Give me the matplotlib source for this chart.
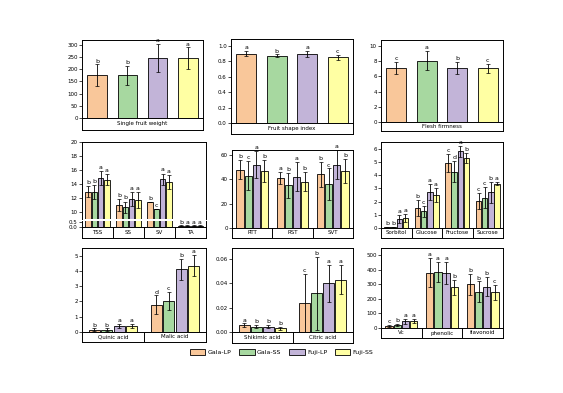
import matplotlib
matplotlib.use("Agg")
import matplotlib.pyplot as plt
from matplotlib.patches import Patch
import numpy as np

W, H = 563, 393

cultivars = ["Gala-LP", "Gala-SS", "Fuji-LP", "Fuji-SS"]
colors = ["#f9c79a", "#a7d8a0", "#c2b4d8", "#ffffa3"]

# single fruit weight
weight_groups = ["Single fruit weight"]
weight = [[175, 175, 245, 245]]
weight_err = [[45, 40, 58, 45]]
weight_sig = [["b", "b", "a", "a"]]

# fruit shape index
shape_groups = ["Fruit shape index"]
shape = [[0.90, 0.87, 0.89, 0.85]]
shape_err = [[0.03, 0.02, 0.04, 0.03]]
shape_sig = [["a", "b", "a", "c"]]

# flesh firmness
firm_groups = ["Flesh firmness"]
firm = [[7.1, 8.1, 7.1, 7.1]]
firm_err = [[0.8, 1.3, 0.8, 0.6]]
firm_sig = [["c", "a", "b", "c"]]

# TSS etc (broken axis)
tss_groups = ["TSS", "SS", "SV", "TA"]
tss = [[12.9, 12.9, 14.9, 14.6],
       [11.0, 10.7, 11.9, 11.7],
       [11.4, 10.4, 14.7, 14.3],
       [0.15, 0.15, 0.15, 0.15]]
tss_err = [[0.8, 1.0, 1.0, 0.8],
           [0.8, 0.8, 1.0, 1.1],
           [0.0, 0.0, 0.8, 1.0],
           [0.02, 0.02, 0.02, 0.02]]
tss_sig = [["b", "b", "a", "a"],
           ["b", "b", "a", "a"],
           ["b", "c", "a", "a"],
           ["b", "a", "a", "a"]]

# texture
tex_groups = ["RTT", "RST", "SVT"]
tex = [[48, 43, 52, 47],
       [41, 35, 42, 38],
       [44, 36, 52, 47]]
tex_err = [[8, 12, 11, 9],
           [5, 10, 12, 8],
           [10, 13, 12, 10]]
tex_sig = [["b", "c", "a", "b"],
           ["a", "b", "a", "b"],
           ["b", "c", "a", "b"]]

# sugars
sug_groups = ["Sorbitol", "Glucose", "Fructose", "Sucrose"]
sug = [[0.05, 0.05, 0.7, 0.78],
       [1.5, 1.25, 2.7, 2.5],
       [4.9, 4.25, 5.8, 5.3],
       [2.05, 2.3, 2.7, 3.35]]
sug_err = [[0.02, 0.02, 0.3, 0.3],
           [0.6, 0.4, 0.6, 0.5],
           [0.7, 0.8, 0.4, 0.4],
           [0.6, 0.8, 0.8, 0.1]]
sug_sig = [["b", "b", "a", "a"],
           ["b", "c", "a", "a"],
           ["c", "d", "a", "b"],
           ["c", "c", "b", "a"]]

# acids 1
acid_groups = ["Quinic acid", "Malic acid"]
acid = [[0.15, 0.15, 0.4, 0.4],
        [1.8, 2.05, 4.1, 4.35]]
acid_err = [[0.08, 0.08, 0.15, 0.15],
            [0.6, 0.6, 0.7, 0.7]]
acid_sig = [["b", "b", "a", "a"],
            ["d", "c", "b", "a"]]

# acids 2
acid2_groups = ["Shikimic acid", "Citric acid"]
acid2 = [[0.0055, 0.0045, 0.0045, 0.003],
         [0.024, 0.032, 0.040, 0.043]]
acid2_err = [[0.0015, 0.001, 0.001, 0.001],
             [0.024, 0.030, 0.015, 0.012]]
acid2_sig = [["a", "b", "b", "b"],
             ["c", "b", "a", "a"]]

# Vc, phenolic, flavonoid
phen_groups = ["Vc", "phenolic", "flavonoid"]
phen = [[15, 20, 45, 50],
        [380, 385, 380, 280],
        [300, 250, 285, 245]]
phen_err = [[8, 8, 15, 15],
            [100, 70, 75, 50],
            [70, 70, 65, 50]]
phen_sig = [["c", "b", "a", "a"],
            ["a", "a", "a", "b"],
            ["b", "b", "b", "c"]]

FS = 4


def rect(x0, y0, x1, y1):
    return [x0 / W, 1 - y1 / H, (x1 - x0) / W, (y1 - y0) / H]


def style(ax):
    ax.tick_params(axis="y", labelsize=FS, length=2, width=0.5, pad=1)
    ax.tick_params(axis="x", bottom=False, labelbottom=False)
    for s in ax.spines.values():
        s.set_linewidth(0.7)


def positions(n, single):
    if single:
        step, width = 1.0, 0.65
    else:
        step, width = 0.2, 0.18
    return step, width


def bars(ax, vals, errs, single, letters=None, pad=0.0):
    vals = np.array(vals)
    errs = np.array(errs)
    n = vals.shape[0]
    step, width = positions(n, single)
    for j in range(4):
        x = np.arange(n) + (j - 1.5) * step
        ax.bar(x, vals[:, j], width, color=colors[j], edgecolor="black",
               linewidth=0.6, zorder=2)
        ax.errorbar(x, vals[:, j], yerr=errs[:, j], fmt="none", ecolor="black",
                    elinewidth=0.6, capsize=1.2, capthick=0.5, zorder=3)
        if letters is not None:
            for i in range(n):
                if letters[i][j]:
                    ax.text(x[i], vals[i, j] + errs[i, j] + pad, letters[i][j],
                            ha="center", va="bottom", fontsize=FS + 0.5, zorder=4)
    if single:
        ax.set_xlim(-2, 2)
    else:
        ax.set_xlim(-0.5, n - 0.5)


def strip(fig, box, groups, single):
    sx = fig.add_axes(rect(*box))
    n = len(groups)
    if single:
        sx.set_xlim(-2, 2)
        sx.text(0, 0.5, groups[0], ha="center", va="center", fontsize=FS)
    else:
        sx.set_xlim(-0.5, n - 0.5)
        for i, g in enumerate(groups):
            sx.text(i, 0.5, g, ha="center", va="center", fontsize=FS)
        for i in range(n - 1):
            sx.axvline(i + 0.5, color="black", lw=0.7)
    sx.set_ylim(0, 1)
    sx.set_xticks([])
    sx.set_yticks([])
    for s in sx.spines.values():
        s.set_linewidth(0.7)
    return sx


def panel(fig, x0, x1, ytop, yaxis, ybox, groups, vals, errs, sigs, ylim, ticks,
          fmt=None, single=False):
    ax = fig.add_axes(rect(x0, ytop, x1, yaxis))
    pad = (ylim[1] - ylim[0]) * 0.01
    bars(ax, vals, errs, single, sigs, pad)
    ax.set_ylim(*ylim)
    ax.set_yticks(ticks)
    if fmt:
        ax.set_yticklabels([fmt.format(t) for t in ticks])
    style(ax)
    strip(fig, (x0, yaxis, x1, ybox), groups, single)
    return ax


fig = plt.figure(figsize=(W / 100, H / 100), dpi=100)

# row 1
panel(fig, 82, 203, 40, 118, 130, weight_groups, weight, weight_err, weight_sig,
      (0, 320), [0, 50, 100, 150, 200, 250, 300], single=True)
panel(fig, 231, 353, 39, 123, 134, shape_groups, shape, shape_err, shape_sig,
      (0, 1.09), [0, 0.2, 0.4, 0.6, 0.8, 1.0], "{:.1f}", single=True)
panel(fig, 381, 503, 40, 122, 131, firm_groups, firm, firm_err, firm_sig,
      (0, 10.8), [0, 2, 4, 6, 8, 10], single=True)

# row 2, broken axis panel
up = fig.add_axes(rect(82, 142, 206, 219))
lo = fig.add_axes(rect(82, 221, 206, 227))
tss_up = [[s if k < 3 else "" for s in row] for k, row in enumerate(tss_sig)]
tss_lo = [[s if k == 3 else "" for s in row] for k, row in enumerate(tss_sig)]
bars(up, tss, tss_err, False, tss_up, 0.15)
bars(lo, tss, tss_err, False, tss_lo, 0.02)
up.set_ylim(9, 20)
up.set_yticks([10, 12, 14, 16, 18, 20])
lo.set_ylim(0, 0.6)
lo.set_yticks([0, 0.5])
lo.set_yticklabels(["0.0", "0.5"])
style(up)
style(lo)
up.spines["bottom"].set_visible(False)
lo.spines["top"].set_visible(False)
strip(fig, (82, 227, 206, 238), tss_groups, False)

panel(fig, 232, 353, 150, 228, 238, tex_groups, tex, tex_err, tex_sig,
      (0, 64), [0, 20, 40, 60])
panel(fig, 381, 503, 142, 228, 238, sug_groups, sug, sug_err, sug_sig,
      (0, 6.5), [0, 1, 2, 3, 4, 5, 6])

# row 3
panel(fig, 82, 206, 248, 332, 342, acid_groups, acid, acid_err, acid_sig,
      (0, 5.5), [0, 1, 2, 3, 4, 5])
panel(fig, 232, 353, 248, 332, 343, acid2_groups, acid2, acid2_err, acid2_sig,
      (0, 0.069), [0, 0.02, 0.04, 0.06], "{:.2f}")
panel(fig, 381, 503, 248, 328, 338, phen_groups, phen, phen_err, phen_sig,
      (0, 550), [0, 100, 200, 300, 400, 500])

handles = [Patch(facecolor=c, edgecolor="black", linewidth=0.6) for c in colors]
fig.legend(handles, cultivars, loc="center", bbox_to_anchor=(0.5, 1 - 352 / H),
           ncol=4, frameon=False, fontsize=FS + 0.5, handlelength=2.5,
           handleheight=1.0, columnspacing=1.2, handletextpad=0.4)

fig.savefig("out.png", dpi=100)
